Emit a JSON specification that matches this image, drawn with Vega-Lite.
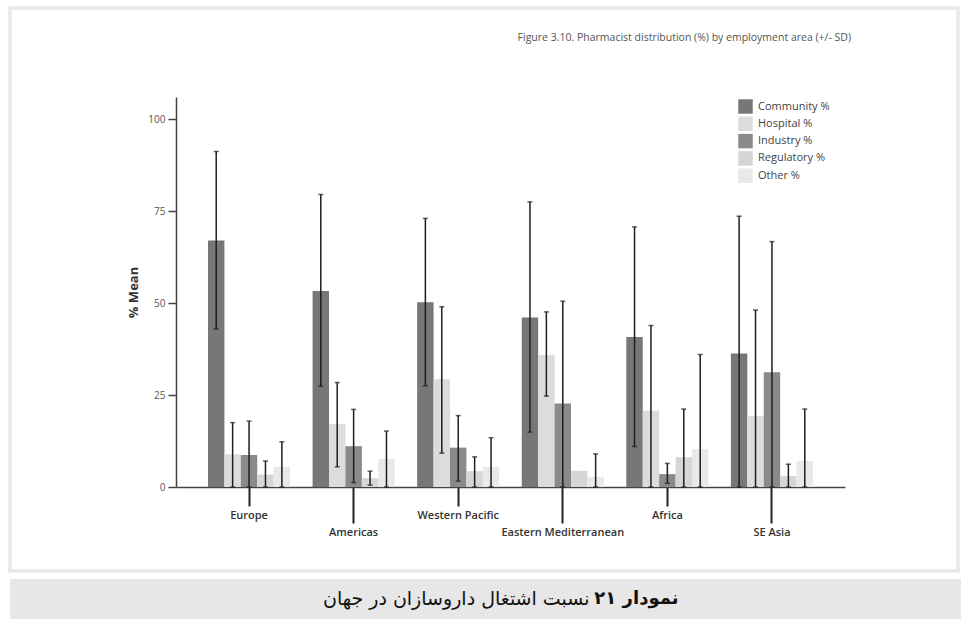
{
  "$schema": "https://vega.github.io/schema/vega-lite/v6.json",
  "padding": {"left": 8, "top": 6, "right": 0, "bottom": 0},
  "spacing": 6,
  "background": "white",
  "config": {"font": "Open Sans"},
  "datasets": {
    "emp": [
      {"region": "Europe", "type": "Community %", "mean": 67.0, "lo": 43.0, "hi": 91.2},
      {"region": "Europe", "type": "Hospital %", "mean": 8.9, "lo": 0, "hi": 17.5},
      {"region": "Europe", "type": "Industry %", "mean": 8.7, "lo": 0, "hi": 17.9},
      {"region": "Europe", "type": "Regulatory %", "mean": 3.4, "lo": 0, "hi": 7.1},
      {"region": "Europe", "type": "Other %", "mean": 5.5, "lo": 0, "hi": 12.3},
      {"region": "Americas", "type": "Community %", "mean": 53.3, "lo": 27.4, "hi": 79.5},
      {"region": "Americas", "type": "Hospital %", "mean": 17.1, "lo": 5.5, "hi": 28.4},
      {"region": "Americas", "type": "Industry %", "mean": 11.1, "lo": 1.2, "hi": 21.1},
      {"region": "Americas", "type": "Regulatory %", "mean": 2.4, "lo": 0.5, "hi": 4.3},
      {"region": "Americas", "type": "Other %", "mean": 7.6, "lo": 0, "hi": 15.2},
      {"region": "Western Pacific", "type": "Community %", "mean": 50.2, "lo": 27.5, "hi": 73.0},
      {"region": "Western Pacific", "type": "Hospital %", "mean": 29.3, "lo": 9.2, "hi": 49.0},
      {"region": "Western Pacific", "type": "Industry %", "mean": 10.7, "lo": 1.6, "hi": 19.4},
      {"region": "Western Pacific", "type": "Regulatory %", "mean": 4.3, "lo": 0, "hi": 8.2},
      {"region": "Western Pacific", "type": "Other %", "mean": 5.5, "lo": 0, "hi": 13.4},
      {"region": "Eastern Mediterranean", "type": "Community %", "mean": 46.1, "lo": 14.9, "hi": 77.5},
      {"region": "Eastern Mediterranean", "type": "Hospital %", "mean": 35.9, "lo": 24.7, "hi": 47.6},
      {"region": "Eastern Mediterranean", "type": "Industry %", "mean": 22.7, "lo": 0, "hi": 50.5},
      {"region": "Eastern Mediterranean", "type": "Regulatory %", "mean": 4.4, "lo": null, "hi": null},
      {"region": "Eastern Mediterranean", "type": "Other %", "mean": 2.8, "lo": 0, "hi": 9.0},
      {"region": "Africa", "type": "Community %", "mean": 40.8, "lo": 11.0, "hi": 70.7},
      {"region": "Africa", "type": "Hospital %", "mean": 20.7, "lo": 0, "hi": 43.9},
      {"region": "Africa", "type": "Industry %", "mean": 3.5, "lo": 1.0, "hi": 6.4},
      {"region": "Africa", "type": "Regulatory %", "mean": 8.1, "lo": 0, "hi": 21.2},
      {"region": "Africa", "type": "Other %", "mean": 10.3, "lo": 0, "hi": 36.0},
      {"region": "SE Asia", "type": "Community %", "mean": 36.3, "lo": 0, "hi": 73.6},
      {"region": "SE Asia", "type": "Hospital %", "mean": 19.3, "lo": 0, "hi": 48.1},
      {"region": "SE Asia", "type": "Industry %", "mean": 31.2, "lo": 0, "hi": 66.7},
      {"region": "SE Asia", "type": "Regulatory %", "mean": 3.0, "lo": 0, "hi": 6.2},
      {"region": "SE Asia", "type": "Other %", "mean": 7.1, "lo": 0, "hi": 21.2}
    ],
    "caption": [
      {"bold": "نمودار ۲۱", "rest": "نسبت اشتغال داروسازان در جهان"}
    ]
  },
  "vconcat": [
    {
      "width": 948,
      "height": 563,
      "view": {"stroke": "#e8e8e8", "strokeWidth": 3.5, "fill": "white"},
      "title": {
        "text": "Figure 3.10. Pharmacist distribution (%) by employment area (+/- SD)",
        "orient": "top",
        "anchor": "end",
        "frame": "group",
        "baseline": "bottom",
        "offset": -45,
        "dx": -107,
        "font": "Open Sans",
        "fontSize": 10.5,
        "fontWeight": "normal",
        "color": "#555555"
      },
      "data": {"name": "emp"},
      "encoding": {
        "x": {
          "field": "region",
          "type": "nominal",
          "sort": ["Europe", "Americas", "Western Pacific", "Eastern Mediterranean", "Africa", "SE Asia"],
          "scale": {"range": [166, 835], "paddingInner": 0.215, "paddingOuter": 0.306},
          "axis": {
            "title": null,
            "orient": "bottom",
            "offset": -84,
            "labelAngle": 0,
            "labelFont": "Open Sans",
            "labelFontSize": 11,
            "labelFontWeight": 600,
            "labelColor": "#333333",
            "labelPadding": 3,
            "domainColor": "#444444",
            "domainWidth": 1.5,
            "tickColor": "#222222",
            "tickWidth": 2,
            "tickSize": {
              "condition": {"test": "indexof(['Americas','Eastern Mediterranean','SE Asia'], datum.value) >= 0", "value": 36},
              "value": 19
            }
          }
        },
        "xOffset": {
          "field": "type",
          "type": "nominal",
          "sort": ["Community %", "Hospital %", "Industry %", "Regulatory %", "Other %"],
          "scale": {"paddingInner": 0, "paddingOuter": 0}
        }
      },
      "layer": [
        {
          "mark": {"type": "bar"},
          "encoding": {
            "y": {
              "field": "mean",
              "type": "quantitative",
              "scale": {"domain": [0, 106], "range": [479, 89], "nice": false, "zero": true},
              "axis": {
                "title": "% Mean",
                "orient": "left",
                "offset": -166,
                "values": [0, 25, 50, 75, 100],
                "grid": false,
                "domainColor": "#444444",
                "domainWidth": 1.5,
                "tickColor": "#444444",
                "tickWidth": 1.5,
                "tickSize": 8,
                "labelFont": "Open Sans",
                "labelFontSize": 10,
                "labelColor": "#555555",
                "labelPadding": 3,
                "titleFont": "Open Sans",
                "titleFontSize": 13,
                "titleFontWeight": "bold",
                "titleColor": "#333333",
                "titlePadding": 7
              }
            },
            "color": {
              "field": "type",
              "type": "nominal",
              "sort": ["Community %", "Hospital %", "Industry %", "Regulatory %", "Other %"],
              "scale": {
                "domain": ["Community %", "Hospital %", "Industry %", "Regulatory %", "Other %"],
                "range": ["#777777", "#dcdcdc", "#8a8a8a", "#d6d6d6", "#e9e9e9"]
              },
              "legend": {
                "title": null,
                "orient": "none",
                "legendX": 728,
                "legendY": 91,
                "padding": 0,
                "symbolType": "square",
                "symbolSize": 210,
                "symbolStrokeWidth": 0,
                "rowPadding": 2.3,
                "labelOffset": 5,
                "labelFont": "Open Sans",
                "labelFontSize": 11,
                "labelColor": "#444444"
              }
            }
          }
        },
        {
          "mark": {"type": "rule", "color": "#1e1e1e", "strokeWidth": 1.5},
          "encoding": {
            "y": {"field": "lo", "type": "quantitative"},
            "y2": {"field": "hi"}
          }
        },
        {
          "mark": {"type": "tick", "color": "#1e1e1e", "thickness": 1.5, "size": 5},
          "encoding": {"y": {"field": "hi", "type": "quantitative"}}
        },
        {
          "mark": {"type": "tick", "color": "#1e1e1e", "thickness": 1.5, "size": 5},
          "encoding": {"y": {"field": "lo", "type": "quantitative"}}
        }
      ]
    },
    {
      "width": 953,
      "height": 40,
      "view": {"fill": "#e6e7e6", "stroke": null},
      "data": {"name": "caption"},
      "layer": [
        {
          "mark": {"type": "text", "align": "right", "baseline": "middle", "dx": 192, "font": "DejaVu Sans", "fontSize": 18, "fontWeight": "bold", "color": "#111111"},
          "encoding": {"text": {"field": "bold"}}
        },
        {
          "mark": {"type": "text", "align": "right", "baseline": "middle", "dx": 103, "font": "DejaVu Sans", "fontSize": 19, "fontWeight": "normal", "color": "#111111"},
          "encoding": {"text": {"field": "rest"}}
        }
      ]
    }
  ]
}
